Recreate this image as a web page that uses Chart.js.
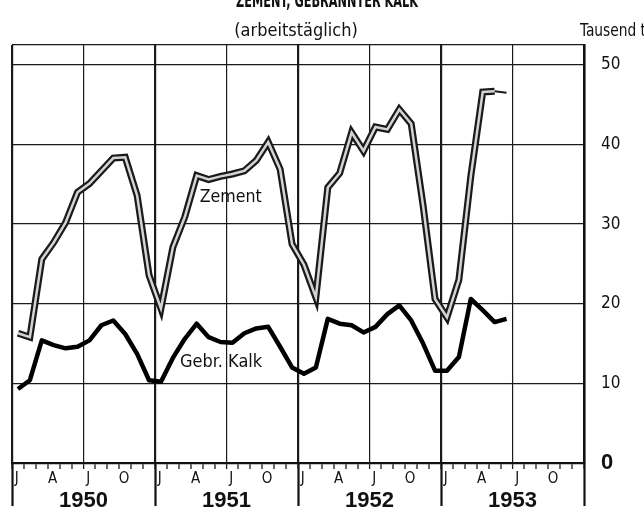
<!DOCTYPE html>
<html>
<head>
<meta charset="utf-8">
<script src="https://cdn.jsdelivr.net/npm/chart.js@4/dist/chart.umd.min.js"></script>
<style>
  html, body { margin: 0; padding: 0; background: #fff; }
  #wrap { width: 644px; height: 510px; position: relative; }
</style>
</head>
<body>
<div id="wrap"><canvas id="myChart"></canvas></div>
<script>
// Monatswerte, Jan 1950 bis Jun 1953 (Tausend t, arbeitstäglich)
var years = ["1950", "1951", "1952", "1953"];
var monthLetters = ["J", "A", "J", "O"];
var yTicks = [0, 10, 20, 30, 40, 50];

var zement = [
  16.3, 15.8, 25.6, 27.7, 30.2, 34.0, 35.1, 36.7, 38.3, 38.4, 33.6, 23.6,
  19.4, 27.1, 30.9, 36.1, 35.6, 36.0, 36.3, 36.7, 38.0, 40.3, 36.9, 27.5,
  24.9, 20.8, 34.6, 36.4, 41.5, 39.2, 42.2, 41.9, 44.4, 42.6, 32.3, 20.6,
  18.3, 23.0, 36.0, 46.6, 46.7, 46.5
];
var kalk = [
  9.3, 10.4, 15.4, 14.8, 14.4, 14.6, 15.4, 17.3, 17.9, 16.2, 13.7, 10.4,
  10.2, 13.2, 15.6, 17.5, 15.8, 15.2, 15.1, 16.3, 16.9, 17.1, 14.6, 12.0,
  11.2, 12.0, 18.1, 17.5, 17.3, 16.4, 17.1, 18.7, 19.8, 17.9, 15.0, 11.6,
  11.6, 13.3, 20.6, 19.2, 17.7, 18.1
];

var COND = '"DejaVu Sans Condensed", "DejaVu Sans", sans-serif';

function toPoints(arr) {
  return arr.map(function (v, i) { return { x: i + 0.5, y: v }; });
}
var lastSeg = zement.length - 2;

var textPlugin = {
  id: "texts",
  afterDraw: function (chart) {
    var c = chart.ctx;
    var xs = chart.scales.x, ys = chart.scales.y;
    c.save();
    c.fillStyle = "#111";
    c.textBaseline = "alphabetic";

    // Titel (oben abgeschnitten)
    c.font = "bold 20px " + COND;
    c.textAlign = "center";
    c.fillText("ZEMENT, GEBRANNTER KALK", 327, 7, 182);
    c.font = "18px " + COND;
    c.fillText("(arbeitstäglich)", 296, 36, 138);

    c.textAlign = "left";
    c.font = "17px " + COND;
    c.fillText("Tausend t", 580, 36, 66);

    // Beschriftung der Linien
    c.font = "18px " + COND;
    c.fillText("Zement", xs.getPixelForValue(15.75), ys.getPixelForValue(32.8), 62);
    c.fillText("Gebr. Kalk", xs.getPixelForValue(14.1), ys.getPixelForValue(12.05), 83);

    // Jahreslinien bis zum unteren Rand
    c.strokeStyle = "#111";
    c.lineWidth = 2.2;
    for (var k = 0; k <= 48; k += 12) {
      var px = Math.round(xs.getPixelForValue(k)) + 0.5;
      c.beginPath();
      c.moveTo(px, chart.chartArea.bottom);
      c.lineTo(px, 506);
      c.stroke();
    }
    c.restore();
  }
};

var ctx = document.getElementById("myChart").getContext("2d");
var myChart = new Chart(ctx, {
  type: "line",
  data: {
    datasets: [
      {
        label: "Zement",
        data: toPoints(zement),
        order: 2,
        borderColor: "#1a1a1a",
        borderWidth: 7,
        pointRadius: 0,
        tension: 0,
        borderJoinStyle: "miter",
        segment: {
          borderWidth: function (c) { return c.p0DataIndex === lastSeg ? 2 : 7; },
        },
      },
      {
        label: "Zement innen",
        data: toPoints(zement),
        order: 0,
        borderColor: "#d4d4d4",
        borderWidth: 2.5,
        pointRadius: 0,
        tension: 0,
        borderJoinStyle: "miter",
        segment: {
          borderColor: function (c) { return c.p0DataIndex === lastSeg ? "rgba(0,0,0,0)" : "#d4d4d4"; },
        },
      },
      {
        label: "Gebr. Kalk",
        data: toPoints(kalk),
        order: 1,
        borderColor: "#000",
        borderWidth: 4.5,
        pointRadius: 0,
        tension: 0,
        borderJoinStyle: "round",
      },
    ],
  },
  options: {
    responsive: true,
    maintainAspectRatio: false,
    animation: false,
    layout: { padding: { left: 12, top: 45, right: 0, bottom: 0 } },
    plugins: {
      legend: { display: false },
      tooltip: { enabled: false },
      title: { display: false },
    },
    scales: {
      x: {
        type: "linear",
        position: "bottom",
        weight: 1,
        min: 0,
        max: 48,
        afterBuildTicks: function (s) {
          var t = [];
          for (var i = 0; i <= 48; i++) t.push({ value: i });
          s.ticks = t;
        },
        afterFit: function (s) { s.height = 6; },
        ticks: { display: false },
        grid: {
          color: "#1a1a1a",
          lineWidth: function (c) {
            var v = c.tick.value;
            if (v % 12 === 0) return 2.2;
            if (v % 6 === 0) return 1.2;
            return 0;
          },
          tickWidth: 1.3,
          tickColor: "#1a1a1a",
          tickLength: 6,
          drawTicks: true,
        },
        border: { display: true, color: "#111", width: 2.2 },
      },
      xm: {
        type: "linear",
        position: "bottom",
        weight: 2,
        min: 0,
        max: 48,
        afterBuildTicks: function (s) {
          var t = [];
          for (var i = 0; i < 16; i++) t.push({ value: i * 3 + 0.4 });
          s.ticks = t;
        },
        afterFit: function (s) { s.height = 17; },
        ticks: {
          autoSkip: false,
          maxRotation: 0,
          padding: 1,
          color: "#111",
          font: { family: COND, size: 15 },
          callback: function (v) { return monthLetters[Math.floor(v / 3) % 4]; },
        },
        grid: { display: false, drawTicks: false },
        border: { display: false },
      },
      xy: {
        type: "linear",
        position: "bottom",
        weight: 3,
        min: 0,
        max: 48,
        afterBuildTicks: function (s) {
          s.ticks = years.map(function (y, i) { return { value: i * 12 + 6 }; });
        },
        afterFit: function (s) { s.height = 24; },
        ticks: {
          autoSkip: false,
          maxRotation: 0,
          padding: 2,
          color: "#111",
          font: { family: "Liberation Sans, Arial, sans-serif", size: 22, weight: "bold" },
          callback: function (v) { return years[Math.floor(v / 12)]; },
        },
        grid: { display: false, drawTicks: false },
        border: { display: false },
      },
      y: {
        type: "linear",
        position: "right",
        min: 0,
        max: 52.5,
        afterBuildTicks: function (s) {
          s.ticks = yTicks.concat([52.5]).map(function (v) { return { value: v }; });
        },
        afterFit: function (s) { s.width = 60; },
        ticks: {
          padding: 17,
          color: "#111",
          font: function (c) {
            if (c.tick && c.tick.value === 0) return { family: "Liberation Sans, Arial, sans-serif", size: 22, weight: "bold" };
            return { family: COND, size: 17 };
          },
          callback: function (v) { return v === 52.5 ? "" : String(v); },
        },
        grid: { color: "#1a1a1a", lineWidth: 1.3, drawTicks: false },
        border: { display: true, color: "#111", width: 2.5 },
      },
    },
  },
  plugins: [textPlugin],
});
</script>
</body>
</html>
